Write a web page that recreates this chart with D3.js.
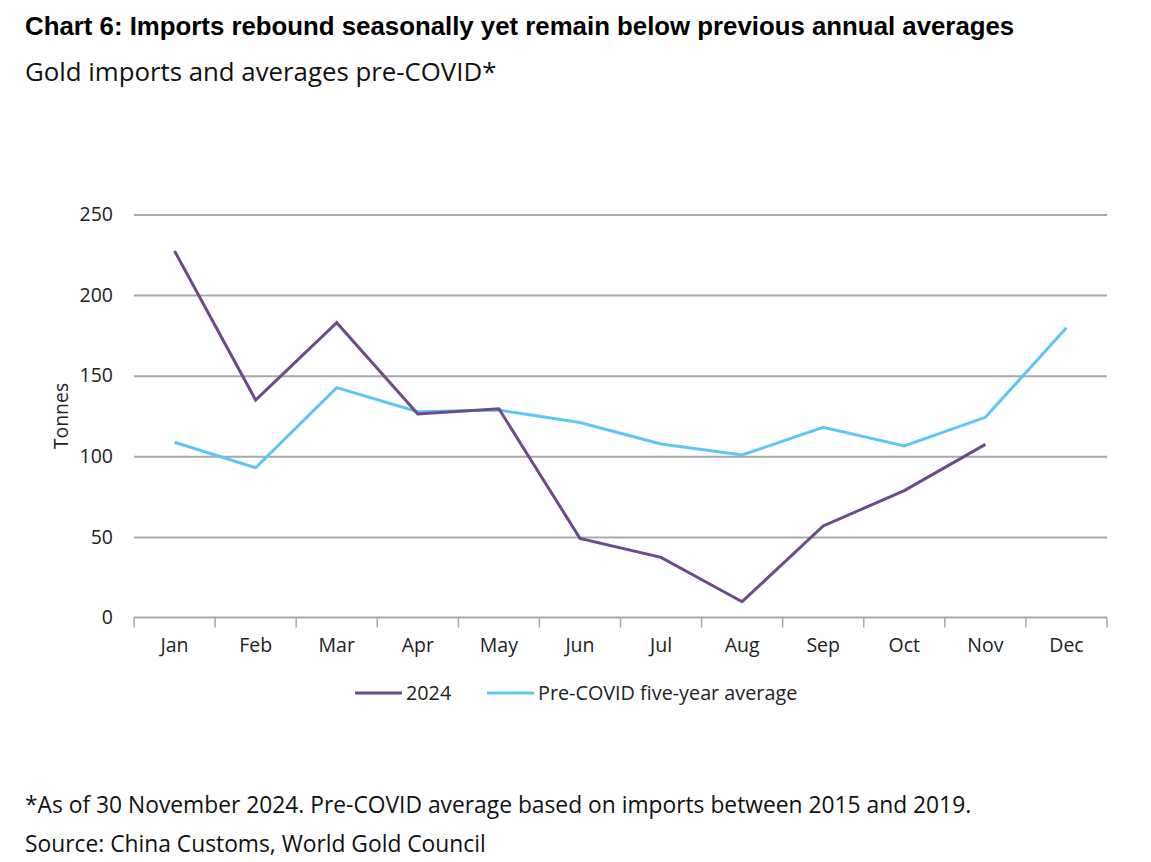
<!DOCTYPE html>
<html>
<head>
<meta charset="utf-8">
<script src="https://cdn.jsdelivr.net/npm/d3@7"></script>
<style>
  body { margin: 0; background: #fff; }
  svg { display: block; }
  .tick text { font-family: "Open Sans", "Noto Sans", sans-serif; fill: #222; }
</style>
</head>
<body>
<svg></svg>
<script>
// Chart 6: China gold imports, 2024 vs pre-COVID five-year average

const width = 1151;
const height = 862;

const months = ["Jan", "Feb", "Mar", "Apr", "May", "Jun", "Jul", "Aug", "Sep", "Oct", "Nov", "Dec"];
const imports2024 = [227.4, 134.9, 182.9, 126.2, 129.5, 49.1, 37.3, 9.8, 56.8, 78.7, 107.4];
const preCovidAvg = [108.7, 92.9, 142.6, 127.7, 128.7, 121, 107.6, 100.8, 118, 106.4, 124.2, 179.8];
const yTicks = [0, 50, 100, 150, 200, 250];
const seriesNames = ["2024", "Pre-COVID five-year average"];
const seriesColors = ["#6c4a8c", "#5cc6f5"];

const margin = { left: 134, right: 44, top: 214.5, bottom: 244.5 };

const svg = d3.select("svg").attr("width", width).attr("height", height);

svg
  .append("text")
  .attr("x", 25)
  .attr("y", 35)
  .style("font-family", "'Liberation Sans', Arial, sans-serif")
  .style("font-weight", "bold")
  .style("font-size", "25.8px")
  .attr("fill", "#000")
  .text("Chart 6: Imports rebound seasonally yet remain below previous annual averages");

svg
  .append("text")
  .attr("x", 25)
  .attr("y", 81)
  .style("font-family", "'Open Sans', 'Noto Sans', sans-serif")
  .style("font-size", "25.8px")
  .attr("fill", "#111")
  .text("Gold imports and averages pre-COVID*");

const x = d3
  .scaleBand()
  .domain(months)
  .range([margin.left, width - margin.right]);

const y = d3
  .scaleLinear()
  .domain([0, 250])
  .range([height - margin.bottom, margin.top]);

// gridlines + y axis labels
const yAxis = d3
  .axisLeft(y)
  .tickValues(yTicks)
  .tickSize(-(width - margin.right - margin.left))
  .tickPadding(21);

const gy = svg
  .append("g")
  .attr("transform", "translate(" + margin.left + ",0)")
  .call(yAxis);
gy.select(".domain").remove();
gy.selectAll(".tick line").attr("stroke", "#a9a9a9").attr("stroke-width", 2);
gy.selectAll(".tick text").style("font-size", "19.5px");
gy.selectAll(".tick")
  .filter((d) => d === 0)
  .select("line")
  .remove();

// x axis with ticks at band edges
const gx = svg
  .append("g")
  .attr("transform", "translate(0," + y(0) + ")")
  .call(d3.axisBottom(x).tickSize(0).tickPadding(21));
gx.select(".domain").attr("stroke", "#a9a9a9").attr("stroke-width", 2).attr("d", "M" + margin.left + ",0H" + (width - margin.right));
gx.selectAll(".tick text").style("font-size", "19.5px");

gx.selectAll(".edge")
  .data(months.concat(["end"]))
  .enter()
  .append("line")
  .attr("x1", (d, i) => margin.left + i * x.step())
  .attr("x2", (d, i) => margin.left + i * x.step())
  .attr("y1", 0)
  .attr("y2", 10)
  .attr("stroke", "#a9a9a9")
  .attr("stroke-width", 1.5);

svg
  .append("text")
  .attr("transform", "rotate(-90)")
  .attr("x", -(y(125)))
  .attr("y", 68)
  .attr("text-anchor", "middle")
  .style("font-family", "'Open Sans', 'Noto Sans', sans-serif")
  .style("font-size", "19.4px")
  .attr("fill", "#222")
  .text("Tonnes");

const line = d3
  .line()
  .x((d, i) => x(months[i]) + x.bandwidth() / 2)
  .y((d) => y(d));

svg
  .append("path")
  .datum(preCovidAvg)
  .attr("d", line)
  .attr("fill", "none")
  .attr("stroke", seriesColors[1])
  .attr("stroke-width", 3);

svg
  .append("path")
  .datum(imports2024)
  .attr("d", line)
  .attr("fill", "none")
  .attr("stroke", seriesColors[0])
  .attr("stroke-width", 3);

// legend
const legendX = [355, 487];
const legend = svg
  .append("g")
  .selectAll("g")
  .data(seriesNames)
  .enter()
  .append("g")
  .attr("transform", (d, i) => "translate(" + legendX[i] + ",693)");

legend
  .append("line")
  .attr("x1", 0)
  .attr("x2", 47)
  .attr("stroke", (d, i) => seriesColors[i])
  .attr("stroke-width", 3);

legend
  .append("text")
  .attr("x", 51)
  .attr("y", 7)
  .style("font-family", "'Open Sans', 'Noto Sans', sans-serif")
  .style("font-size", "19.8px")
  .attr("fill", "#222")
  .text((d) => d);

// footnotes
const notes = [
  "*As of 30 November 2024. Pre-COVID average based on imports between 2015 and 2019.",
  "Source: China Customs, World Gold Council",
];
svg
  .selectAll(".note")
  .data(notes)
  .enter()
  .append("text")
  .attr("x", 25)
  .attr("y", (d, i) => 813 + i * 39)
  .style("font-family", "'Open Sans', 'Noto Sans', sans-serif")
  .style("font-size", "22.8px")
  .attr("fill", "#111")
  .text((d) => d);
</script>
</body>
</html>
